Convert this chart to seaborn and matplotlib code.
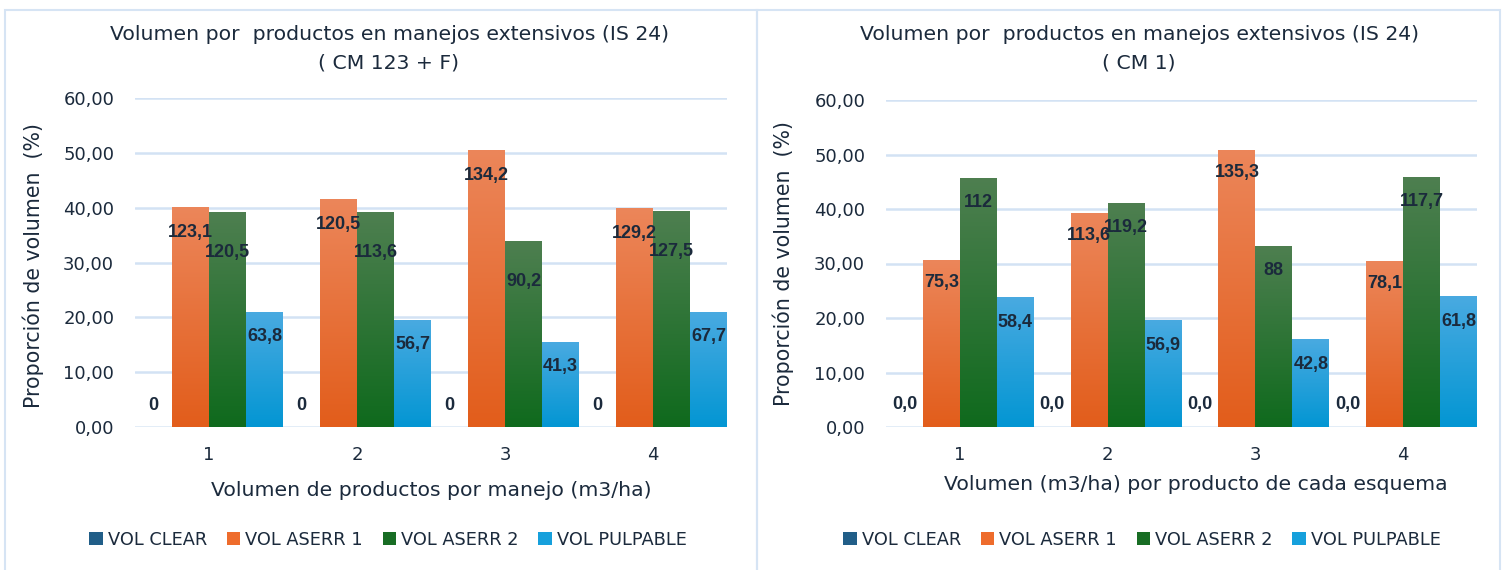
import numpy as np
import pandas as pd
import matplotlib
matplotlib.use("Agg")
import matplotlib.pyplot as plt
import seaborn as sns
from matplotlib.colors import LinearSegmentedColormap
from matplotlib.patches import Patch, Rectangle
from matplotlib.ticker import FuncFormatter

# ---------------- data ----------------
groups = ["1", "2", "3", "4"]
series = ["VOL CLEAR", "VOL ASERR 1", "VOL ASERR 2", "VOL PULPABLE"]

# left panel (CM 123 + F): bar heights in % of volume
left_clear = [0.0, 0.0, 0.0, 0.0]
left_aserr1 = [40.1, 41.4, 50.5, 39.8]
left_aserr2 = [39.2, 39.1, 33.9, 39.3]
left_pulp = [20.8, 19.5, 15.5, 20.9]
# labels shown on the bars (m3/ha)
left_lab_clear = ["0", "0", "0", "0"]
left_lab_aserr1 = ["123,1", "120,5", "134,2", "129,2"]
left_lab_aserr2 = ["120,5", "113,6", "90,2", "127,5"]
left_lab_pulp = ["63,8", "56,7", "41,3", "67,7"]

# right panel (CM 1)
right_clear = [0.0, 0.0, 0.0, 0.0]
right_aserr1 = [30.6, 39.2, 50.8, 30.3]
right_aserr2 = [45.6, 41.1, 33.1, 45.7]
right_pulp = [23.8, 19.6, 16.1, 24.0]
right_lab_clear = ["0,0", "0,0", "0,0", "0,0"]
right_lab_aserr1 = ["75,3", "113,6", "135,3", "78,1"]
right_lab_aserr2 = ["112", "119,2", "88", "117,7"]
right_lab_pulp = ["58,4", "56,9", "42,8", "61,8"]

title_l1 = "Volumen por  productos en manejos extensivos (IS 24)"
left_title2 = "( CM 123 + F)"
right_title2 = "( CM 1)"
left_xlabel = "Volumen de productos por manejo (m3/ha)"
right_xlabel = "Volumen (m3/ha) por producto de cada esquema"
ylabel = "Proporción de volumen  (%)"
yticks = [0, 10, 20, 30, 40, 50, 60]

# ---------------- style ----------------
W, H = 1505, 570
TXT = "#1B2A3C"
GRID = "#D3E2F4"
grad = {
    "VOL CLEAR": ("#2A6A94", "#174F78"),
    "VOL ASERR 1": ("#EC865A", "#E25D1B"),
    "VOL ASERR 2": ("#4E7F50", "#0F6A1D"),
    "VOL PULPABLE": ("#49AAE1", "#0396D3"),
}
legend_col = {
    "VOL CLEAR": "#215E88",
    "VOL ASERR 1": "#EE6C2C",
    "VOL ASERR 2": "#186D24",
    "VOL PULPABLE": "#16A0DC",
}

sns.set_theme(style="white")
plt.rcParams["font.family"] = ["DejaVu Sans"]
plt.rcParams["text.color"] = TXT

fig = plt.figure(figsize=(W / 100, H / 100), dpi=100)
fig.patch.set_facecolor("white")


def px_ax(x0, x1, y_top, y_bot):
    return [x0 / W, 1 - y_bot / H, (x1 - x0) / W, (y_bot - y_top) / H]


# panel borders
for (x0, x1) in [(5, 757), (757, 1500)]:
    fig.patches.append(Rectangle((x0 / W, -0.02), (x1 - x0) / W, 1 - 10 / H + 0.02,
                                 transform=fig.transFigure, fill=False,
                                 edgecolor="#D6E4F4", linewidth=1.5))


def draw_panel(rect, vals, labels, title2, xlabel, cx, xl_x, xl_y, yl_x, yl_y, leg_x, offsets):
    ax = fig.add_axes(rect)
    rows = []
    for s, v in zip(series, vals):
        for g, val in zip(groups, v):
            rows.append({"grupo": g, "serie": s, "valor": val})
    df = pd.DataFrame(rows)
    sns.barplot(data=df, x="grupo", y="valor", hue="serie", hue_order=series,
                order=groups, palette=legend_col, width=1.0, gap=0,
                legend=False, ax=ax, errorbar=None, saturation=1)
    ax.set_ylim(0, 60)
    ax.set_xlim(-0.5, 3.5)
    patches = list(ax.patches)
    k = 0
    for si, s in enumerate(series):
        cmap = LinearSegmentedColormap.from_list(s, [grad[s][1], grad[s][0]])
        for gi in range(len(groups)):
            p = patches[k]
            k += 1
            x, w, h = p.get_x(), p.get_width(), p.get_height()
            if h > 0:
                img = np.linspace(0, 1, 256).reshape(-1, 1)
                ax.imshow(img, extent=[x, x + w, 0, h], origin="lower",
                          aspect="auto", cmap=cmap, zorder=2, interpolation="bicubic")
                p.set_facecolor("none")
                p.set_edgecolor("none")
                dy = -offsets[si] * 0.72
            else:
                dy = 22 * 0.72
            ax.annotate(labels[si][gi], (x + w / 2, h), xytext=(0, dy),
                        textcoords="offset points", ha="center", va="center",
                        fontsize=13, fontweight="bold", family=["Liberation Sans", "DejaVu Sans"],
                        color=TXT, zorder=5)
    ax.set_xlim(-0.5, 3.5)
    ax.set_ylim(0, 60)
    ax.set_yticks(yticks)
    ax.yaxis.set_major_formatter(FuncFormatter(lambda v, _: f"{v:.2f}".replace(".", ",")))
    ax.grid(axis="y", color=GRID, linewidth=1.8)
    ax.set_axisbelow(True)
    for sp in ax.spines.values():
        sp.set_visible(False)
    ax.tick_params(axis="both", length=0, labelsize=13, colors=TXT)
    ax.tick_params(axis="y", pad=15)
    ax.tick_params(axis="x", pad=14)
    ax.set_xlabel("")
    ax.set_ylabel("")
    fig.text(cx / W, 1 - 35 / H, title_l1, ha="center", va="center", fontsize=14.7, color=TXT)
    fig.text(cx / W, 1 - 63 / H, title2, ha="center", va="center", fontsize=14.7, color=TXT)
    fig.text(xl_x / W, 1 - xl_y / H, xlabel, ha="center", va="center",
             fontsize=14.7, color=TXT)
    fig.text(yl_x / W, 1 - yl_y / H, ylabel, ha="center", va="center", rotation=90,
             fontsize=14.8, color=TXT)
    handles = [Patch(facecolor=legend_col[s], edgecolor="none") for s in series]
    fig.legend(handles, series, loc="center", bbox_to_anchor=(leg_x / W, 1 - 540 / H),
               ncol=4, frameon=False, fontsize=12.8, handlelength=0.75, handleheight=0.75,
               handletextpad=0.3, columnspacing=1.1, labelcolor=TXT)
    return ax


draw_panel(px_ax(135, 727, 98, 427),
           [left_clear, left_aserr1, left_aserr2, left_pulp],
           [left_lab_clear, left_lab_aserr1, left_lab_aserr2, left_lab_pulp],
           left_title2, left_xlabel, 389, 431, 491, 33, 265, 388, [0, 25, 40, 24])

draw_panel(px_ax(886, 1477, 100, 427),
           [right_clear, right_aserr1, right_aserr2, right_pulp],
           [right_lab_clear, right_lab_aserr1, right_lab_aserr2, right_lab_pulp],
           right_title2, right_xlabel, 1139, 1196, 484, 783, 264, 1142, [0, 22, 24, 25])

fig.savefig("out.png", dpi=100, facecolor="white")
